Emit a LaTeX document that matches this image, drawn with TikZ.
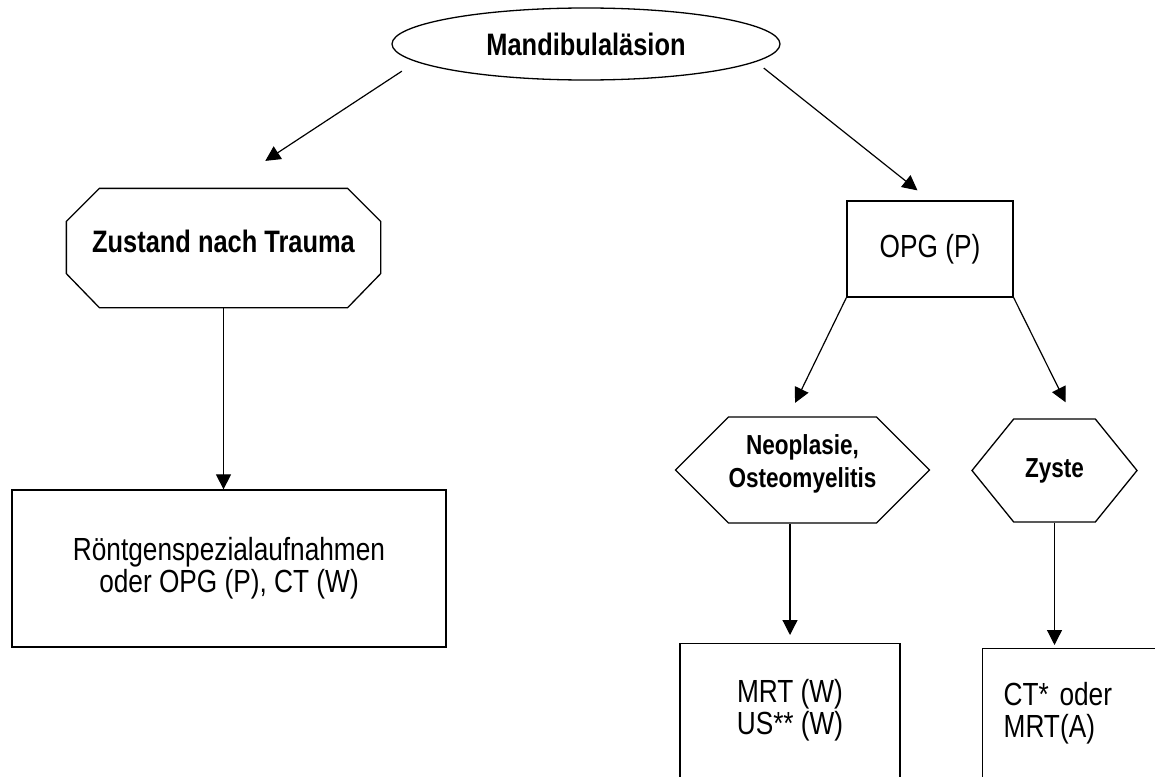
\documentclass[tikz,border=0pt]{standalone}
\usepackage{fontspec}
\setmainfont{Liberation Sans}[FakeStretch=0.82]
\usetikzlibrary{arrows.meta,positioning,shapes.geometric,shapes.symbols,calc}

\begin{document}
\begin{tikzpicture}[x=1pt, y=-1pt,
  box/.style={draw, line width=1.3pt, align=center, inner sep=0pt, font=\fontsize{32}{32}\selectfont},
  cut/.style={line width=1.3pt, inner sep=0pt, font=\bfseries\fontsize{31}{32}\selectfont},
  hexa/.style={draw, signal, signal to=east and west, line width=1.3pt, inner sep=0pt, align=center, font=\bfseries\fontsize{27.5}{33}\selectfont},
  arr/.style={-{Triangle[length=15pt,width=15pt]}, line width=1.2pt}
]
\clip (0,0) rectangle (1155,776);
\fill[white] (0,0) rectangle (1155,776);

% Start
\node[draw, ellipse, line width=1.3pt, minimum width=388pt, minimum height=72pt, font=\bfseries\fontsize{31}{32}\selectfont] (lesion) at (586,44) {Mandibulaläsion};

% Left branch
\node[cut, minimum width=313pt, minimum height=118pt, text depth=14pt] (trauma) at (223.5,248) {Zustand nach Trauma};
\draw[line width=1.3pt] ([xshift=33pt]trauma.north west) -- ([xshift=-33pt]trauma.north east)
  -- ([yshift=-33pt]trauma.north east) -- ([yshift=34pt]trauma.south east)
  -- ([xshift=-33pt]trauma.south east) -- ([xshift=33pt]trauma.south west)
  -- ([yshift=34pt]trauma.south west) -- ([yshift=-33pt]trauma.north west) -- cycle;
\node[box, minimum width=434pt, minimum height=157pt] (roent) at (229,568.5) {Röntgenspezialaufnahmen\\oder OPG (P), CT (W)};

% Right branch
\node[box, minimum width=166pt, minimum height=96pt] (opg) at (930,249) {OPG (P)};
\node[hexa, minimum width=221pt, minimum height=106pt, signal pointer angle=90, text depth=18pt] (neo) at (802.5,470) {Neoplasie,\\Osteomyelitis};
\node[hexa, minimum width=165pt, minimum height=103pt, signal pointer angle=102] (zyste) at (1054.5,470.5) {Zyste};
\node[box, anchor=north, minimum width=220pt, minimum height=134pt] (mrt) at (790,643) {MRT (W)\\US** (W)};
\node[box, anchor=north west, minimum height=130pt, text width=197pt, align=left, inner xsep=21pt] (ct) at (982,648) {CT* oder\\MRT(A)};

% Arrows
\draw[arr, shorten <=17pt, shorten >=50pt] (lesion.186) -- (trauma.north);
\draw[arr, shorten <=10pt, shorten >=16pt] (lesion.-6) -- (opg.north);
\draw[arr] (trauma.south) -- (trauma.south |- roent.north);
\draw[arr, shorten >=15pt] (opg.south west) -- ([xshift=-14pt]neo.north);
\draw[arr, shorten >=18pt] (opg.south east) -- ([xshift=19pt]zyste.north);
\draw[arr, shorten >=8pt] (neo.south -| mrt.north) -- (mrt.north);
\draw[arr, shorten >=3pt] (zyste.south) -- (zyste.south |- ct.north);
\end{tikzpicture}
\end{document}
